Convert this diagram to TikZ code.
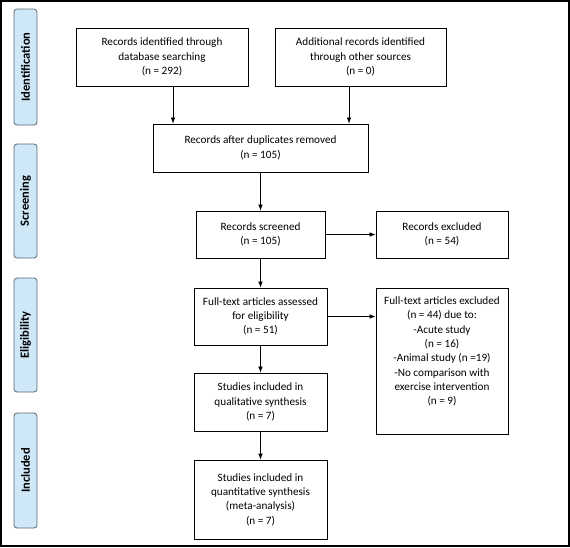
\documentclass[tikz,border=0pt]{standalone}
\usepackage{fontspec}
\setmainfont{Carlito}
\usetikzlibrary{arrows.meta}
\definecolor{stagefill}{HTML}{CFE8F8}
\definecolor{stagedraw}{HTML}{5A6670}
\begin{document}
\begin{tikzpicture}[x=1pt,y=-1pt,
  box/.style={draw=black, line width=0.8pt, fill=white, align=center, inner sep=2pt,
    font=\fontsize{11.2}{14.3}\selectfont},
  stage/.style={draw=stagedraw, line width=0.8pt, fill=stagefill, rounded corners=3pt,
    rotate=90, minimum height=23pt, inner sep=0pt,
    font=\fontsize{12.5}{14}\selectfont\bfseries},
  arr/.style={-{Latex[length=6pt,width=4.5pt]}, line width=0.7pt}]
\useasboundingbox (0,0) rectangle (570,547);
\draw[line width=2pt] (1,1) rectangle (569,546);
% stage labels
\node[stage, minimum width=116pt] (s1) at (25.5,67) {Identification};
\node[stage, minimum width=114pt] (s2) at (25.5,201) {Screening};
\node[stage, minimum width=114pt] (s3) at (25.5,335) {Eligibility};
\node[stage, minimum width=115pt] (s4) at (25.5,470.5) {Included};
% boxes
\node[box, minimum width=172pt, minimum height=58pt] (b1) at (162,57)
  {Records identified through\\database searching\\(n = 292)};
\node[box, minimum width=171pt, minimum height=58pt] (b2) at (360.5,57)
  {Additional records identified\\through other sources\\(n = 0)};
\node[box, minimum width=215pt, minimum height=48pt] (b3) at (260.5,148)
  {Records after duplicates removed\\(n = 105)};
\node[box, minimum width=129pt, minimum height=47pt] (b4) at (260.5,234.5)
  {Records screened\\(n = 105)};
\node[box, minimum width=132pt, minimum height=47pt] (b5) at (442,234.5)
  {Records excluded\\(n = 54)};
\node[box, minimum width=133pt, minimum height=57pt] (b6) at (260.5,316.5)
  {Full-text articles assessed\\for eligibility\\(n = 51)};
\node[box, minimum width=132pt, minimum height=146pt] (b7) at (442,361) {};
\node[align=center, inner sep=0pt, anchor=north, font=\fontsize{11.2}{14.3}\selectfont]
  (b7t) at ([yshift=-9pt]b7.north)
  {Full-text articles excluded\\(n = 44) due to:\\-Acute study\\(n = 16)\\-Animal study (n =19)\\-No comparison with\\exercise intervention\\(n = 9)};
\node[box, minimum width=133pt, minimum height=58pt] (b8) at (260.5,402)
  {Studies included in\\qualitative synthesis\\(n = 7)};
\node[box, minimum width=133pt, minimum height=79pt] (b9) at (260.5,499.5)
  {Studies included in\\quantitative synthesis\\(meta-analysis)\\(n = 7)};
% connectors
\coordinate (c1) at (173,0);
\coordinate (c2) at (349,0);
\draw[arr] (b1.south -| c1) -- (b3.north -| c1);
\draw[arr] (b2.south -| c2) -- (b3.north -| c2);
\draw[arr] (b3.south) -- (b4.north);
\draw[arr] (b4.east) -- (b5.west);
\draw[arr] (b6.east) -- (b6.east -| b7.west);
\draw[arr] (b4.south) -- (b6.north);
\draw[arr] (b6.south) -- (b8.north);
\draw[arr] (b8.south) -- (b9.north);
\end{tikzpicture}
\end{document}
